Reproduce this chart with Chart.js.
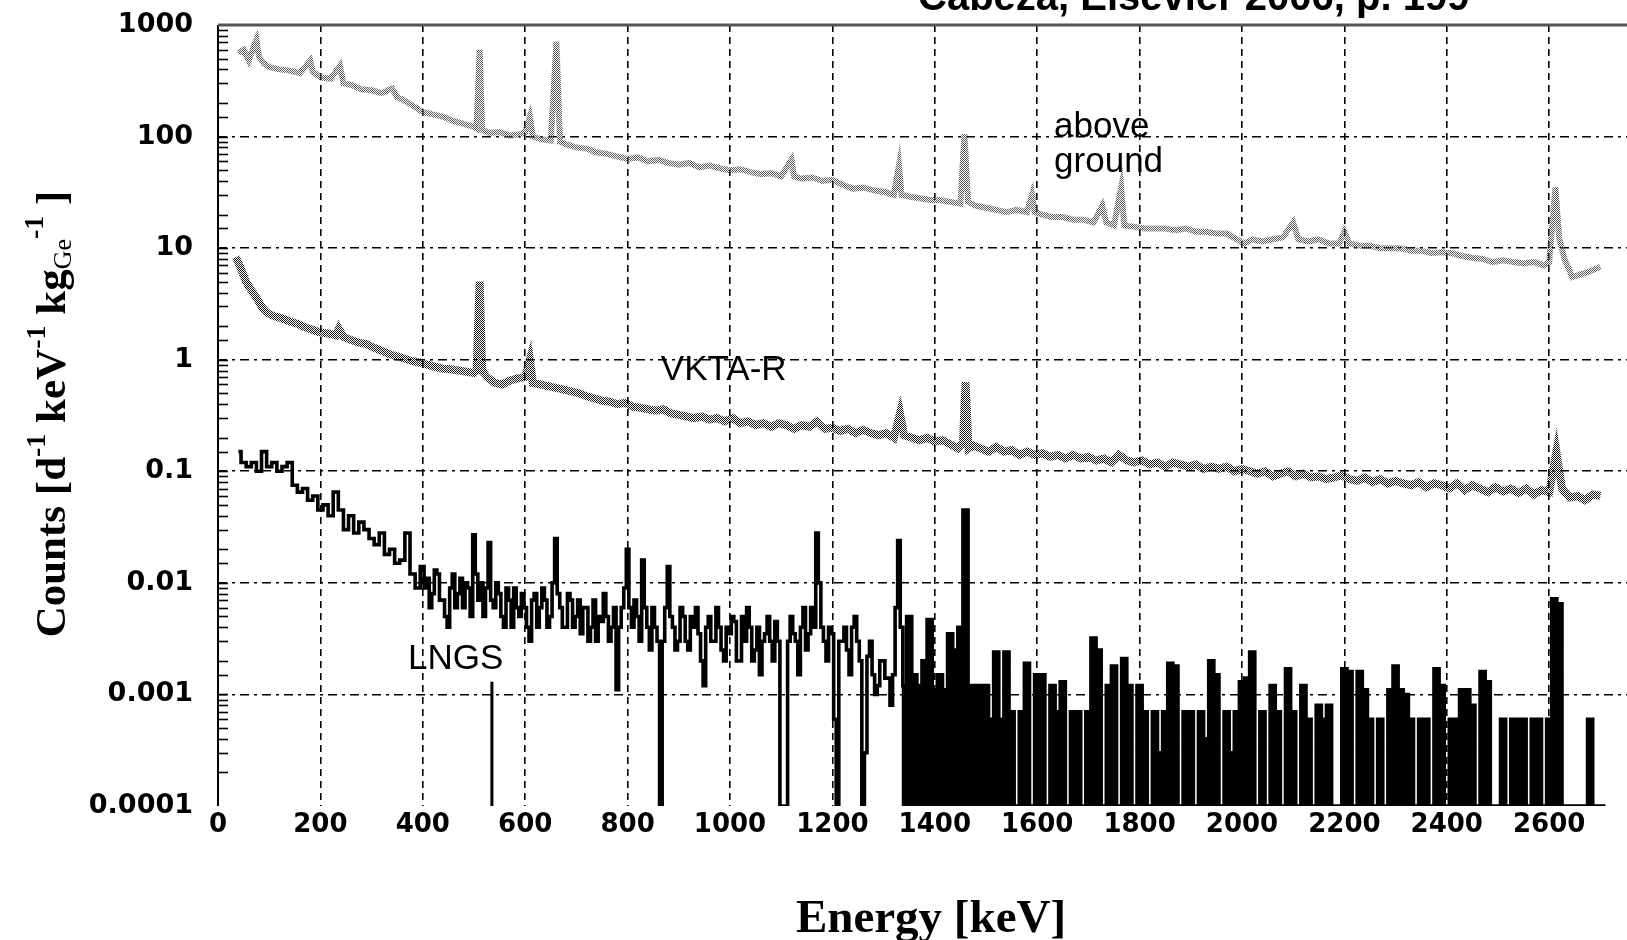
<!DOCTYPE html>
<html><head><meta charset="utf-8">
<script src="https://cdn.jsdelivr.net/npm/chart.js@4.4.1/dist/chart.umd.min.js"></script>
<style>html,body{margin:0;padding:0;background:#fff;}#wrap{position:relative;width:1627px;height:940px;}</style>
</head><body><div id="wrap"><canvas id="c"></canvas></div>
<script>
// ---------- DATA ----------
const xTicks = [0,200,400,600,800,1000,1200,1400,1600,1800,2000,2200,2400,2600];
const yTickLabels = ['0.0001','0.001','0.01','0.1','1','10','100','1000'];

const aboveEnergy = [
 40,50,60,70,75,80,90,100,120,140,
 160,180,185,200,220,238,245,260,280,300,
 320,340,350,360,380,400,420,440,460,480,
 500,505,511,516,530,550,570,590,600,609,
 615,630,650,661,668,680,700,720,740,760,
 780,800,820,840,860,880,900,920,940,960,
 980,1000,1020,1040,1060,1080,1100,1120,1125,1140,
 1160,1180,1200,1220,1240,1260,1280,1300,1320,1330,
 1335,1350,1370,1390,1410,1430,1450,1458,1465,1480,
 1500,1520,1540,1560,1580,1590,1595,1610,1630,1650,
 1670,1690,1710,1727,1735,1750,1764,1770,1790,1810,
 1830,1850,1870,1890,1910,1930,1950,1970,1990,2005,
 2020,2040,2060,2080,2100,2110,2130,2150,2170,2190,
 2200,2210,2230,2250,2270,2290,2310,2330,2350,2370,
 2390,2410,2430,2450,2470,2490,2510,2530,2550,2570,
 2590,2600,2612,2620,2630,2645,2660,2680,2700];
const aboveCounts = [
 560,600,480,650,735,520,450,420,400,390,
 370,480,380,340,330,430,300,290,265,260,
 245,270,225,215,190,166,158,150,138,130,
 122,118,600,115,108,110,102,105,110,150,
 100,95,92,710,90,85,80,78,72,70,
 66,63,65,60,62,58,56,58,53,55,
 52,50,51,48,46,47,44,62,44,42,
 43,40,41,37,34,35,33,32,30,55,
 30,29,28,27,27,26,25,105,26,24,
 23,22,21,22,21,30,21,20,19,19,
 18,18,17,24,17,16,35,16,15.5,15,
 15,15,14.5,15,14,14,13.5,13.5,12,11,
 12,11.5,12,12.5,17,12,11.5,12,11,11,
 14,11,10.5,10.5,10,10,10,9.5,9.5,9,
 9.2,9,8.5,8.2,8,7.5,7.8,7.5,7.3,7.5,
 7,7.5,35,12,8,5.5,5.8,6.2,6.8];

const vktaEnergy = [
 35,45,55,65,75,85,95,110,125,140,155,170,185,200,
 215,230,236,245,260,275,290,305,320,335,350,365,380,395,
 410,425,440,455,470,485,500,505,511,516,
 525,540,555,570,585,600,609,615,
 630,645,660,675,690,705,720,735,750,765,780,795,810,825,840,855,870,885,900,915,930,945,960,975,990,
 1005,1020,1035,1050,1065,1080,1095,1110,1125,1140,1155,1170,1185,1200,1215,1230,1245,1260,1275,1290,1305,1320,
 1332,1340,1355,1370,1385,1400,1415,1430,1445,1455,1460,1466,1475,
 1490,1505,1520,1535,1550,1565,1580,1595,1610,1625,
 1640,1655,1670,1685,1700,1715,1730,1745,1760,1775,
 1790,1805,1820,1835,1850,1865,1880,1895,1910,1925,
 1940,1955,1970,1985,2000,2015,2030,2045,2060,2075,
 2090,2105,2120,2135,2150,2165,2180,2195,2210,2225,
 2240,2255,2270,2285,2300,2315,2330,2345,2360,2375,
 2390,2405,2420,2435,2450,2465,2480,2495,2510,2525,
 2540,2555,2570,2585,2600,2614,2625,2640,2655,2670,2685,2700];
const vktaCounts = [
 8.3,6.5,5,4.2,3.6,3.0,2.65,2.45,2.35,2.2,2.1,1.95,1.85,1.75,
 1.72,1.65,1.9,1.6,1.5,1.42,1.38,1.28,1.2,1.12,1.07,1.02,0.97,0.94,
 0.9,0.86,0.83,0.82,0.8,0.78,0.76,0.8,5.0,0.8,
 0.7,0.62,0.6,0.65,0.68,0.7,1.0,0.62,
 0.6,0.58,0.56,0.54,0.52,0.5,0.47,0.45,0.43,0.42,0.4,0.41,0.38,0.37,0.36,0.35,0.36,0.33,0.32,0.31,0.30,0.31,0.29,0.3,0.28,
 0.3,0.27,0.28,0.26,0.27,0.25,0.27,0.26,0.24,0.26,0.25,0.28,0.24,0.245,0.23,0.24,0.22,0.235,0.22,0.21,0.22,0.2,
 0.33,0.21,0.2,0.19,0.2,0.185,0.19,0.175,0.16,0.18,0.63,0.16,0.17,
 0.16,0.15,0.165,0.15,0.155,0.14,0.15,0.14,0.145,0.135,
 0.14,0.13,0.14,0.13,0.135,0.125,0.13,0.12,0.14,0.125,
 0.12,0.125,0.115,0.12,0.11,0.12,0.115,0.11,0.115,0.105,
 0.11,0.105,0.11,0.1,0.105,0.1,0.095,0.1,0.09,0.095,
 0.1,0.09,0.095,0.088,0.09,0.085,0.088,0.092,0.085,0.082,
 0.088,0.08,0.085,0.078,0.082,0.078,0.075,0.08,0.072,0.078,
 0.075,0.07,0.078,0.068,0.075,0.07,0.065,0.072,0.066,0.07,
 0.064,0.07,0.062,0.068,0.065,0.15,0.07,0.058,0.06,0.055,0.062,0.06];

const lngsEnergy = [
 40,50,60,70,80,90,100,110,120,130,
 140,150,160,170,180,190,200,210,220,230,
 240,250,260,270,280,290,300,310,320,330,
 340,350,360,370,380,390,
 400,405,410,415,420,425,430,435,440,445,
 450,455,460,465,470,475,480,485,490,495,
 500,505,510,515,520,525,530,535,540,545,
 550,555,560,565,570,575,580,585,590,595,
 600,605,610,615,620,625,630,635,640,645,
 650,655,660,665,670,675,680,685,690,695,
 700,705,710,715,720,725,730,735,740,745,
 750,755,760,765,770,775,780,785,790,795,
 800,805,810,815,820,825,830,835,840,845,
 850,855,860,865,870,875,880,885,890,895,
 900,905,910,915,920,925,930,935,940,945,
 950,955,960,965,970,975,980,985,990,995,
 1000,1005,1010,1015,1020,1025,1030,1035,1040,1045,
 1050,1055,1060,1065,1070,1075,1080,1085,1090,1095,
 1100,1105,1110,1115,1120,1125,1130,1135,1140,1145,
 1150,1155,1160,1165,1170,1175,1180,1185,1190,1195,
 1200,1205,1210,1215,1220,1225,1230,1235,1240,1245,
 1250,1255,1260,1265,1270,1275,1280,1285,1290,1295,
 1300,1305,1310,1315,1320,1325,1330,1335,
 1340,1350,1360,1370,1380,1390,1400,1410,1420,1430,
 1440,1450,1460,1470,1480,1490,1500,1510,1520,1530,
 1540,1550,1560,1570,1580,1590,1600,1610,1620,1630,
 1640,1650,1660,1670,1680,1690,1700,1710,1720,1730,
 1740,1750,1760,1770,1780,1790,1800,1810,1820,1830,
 1840,1850,1860,1870,1880,1890,1900,1910,1920,1930,
 1940,1950,1960,1970,1980,1990,2000,2010,2020,2030,
 2040,2050,2060,2070,2080,2090,2100,2110,2120,2130,
 2140,2150,2160,2170,2180,2190,2200,2210,2220,2230,
 2240,2250,2260,2270,2280,2290,2300,2310,2320,2330,
 2340,2350,2360,2370,2380,2390,2400,2410,2420,2430,
 2440,2450,2460,2470,2480,2490,2500,2510,2520,2530,
 2540,2550,2560,2570,2580,2590,2600,2610,2620,2630,
 2640,2650,2660,2670,2680,2690,2700,2710];
const lngsCounts = [
 0.15,0.12,0.11,0.12,0.10,0.15,0.11,0.12,0.10,0.11,
 0.12,0.075,0.065,0.07,0.055,0.06,0.045,0.05,0.04,0.065,
 0.045,0.03,0.04,0.028,0.035,0.03,0.025,0.022,0.028,0.018,
 0.02,0.015,0.016,0.028,0.012,0.009,
 0.014,0.009,0.011,0.006,0.008,0.013,0.012,0.007,0.007,0.005,
 0.004,0.009,0.012,0.006,0.008,0.011,0.006,0.010,0.009,0.005,
 0.027,0.012,0.007,0.010,0.005,0.009,0.023,0.007,0.006,0.010,
 0.008,0.005,0.004,0.009,0.007,0.004,0.009,0.006,0.005,0.008,
 0.006,0.004,0.003,0.007,0.008,0.004,0.006,0.009,0.007,0.004,
 0.005,0.010,0.025,0.008,0.006,0.004,0.004,0.008,0.007,0.004,
 0.005,0.007,0.0035,0.006,0.006,0.003,0.004,0.007,0.003,0.005,
 0.0045,0.008,0.005,0.003,0.004,0.006,0.0011,0.004,0.006,0.009,
 0.020,0.006,0.004,0.007,0.005,0.003,0.016,0.006,0.004,0.0025,
 0.006,0.004,0.003,0.0001,0.003,0.006,0.014,0.005,0.004,0.0025,
 0.003,0.006,0.005,0.003,0.0025,0.005,0.004,0.006,0.0035,0.002,
 0.0012,0.004,0.005,0.003,0.003,0.006,0.004,0.0025,0.002,0.004,
 0.0035,0.005,0.0045,0.002,0.002,0.005,0.003,0.006,0.004,0.002,
 0.0025,0.004,0.0015,0.003,0.0035,0.005,0.003,0.002,0.0045,0.003,
 0.0001,0.0001,0.0001,0.003,0.005,0.0035,0.003,0.0015,0.004,0.006,
 0.0025,0.0035,0.006,0.004,0.028,0.010,0.004,0.003,0.002,0.004,
 0.0035,0.0006,0.0001,0.003,0.003,0.004,0.0025,0.0015,0.004,0.005,
 0.003,0.002,0.0001,0.0003,0.0022,0.003,0.0015,0.001,0.0012,0.002,
 0.002,0.0014,0.0014,0.0008,0.0015,0.006,0.024,0.004,
 0.0012,0.005,0.0015,0.0012,0.002,0.0047,0.0011,0.0015,0.0011,0.0035,
 0.0025,0.004,0.045,0.0012,0.0012,0.0012,0.0012,0.0006,0.0024,0.0006,
 0.0024,0.0007,0.0001,0.0007,0.0019,0.0001,0.0015,0.0015,0.0001,0.0012,
 0.0007,0.0013,0.0001,0.0007,0.0007,0.0001,0.0007,0.0032,0.0025,0.0001,
 0.0012,0.0018,0.0001,0.0021,0.0012,0.0001,0.0012,0.0007,0.0001,0.0007,
 0.0003,0.0007,0.0019,0.0018,0.0001,0.0007,0.0007,0.0001,0.0007,0.0004,
 0.002,0.0015,0.0001,0.0007,0.0003,0.0007,0.0013,0.0014,0.0024,0.0001,
 0.0007,0.0001,0.0012,0.0007,0.0001,0.0017,0.0007,0.0001,0.0012,0.0006,
 0.0001,0.0008,0.0006,0.0008,0.0001,0.0001,0.0017,0.0016,0.0001,0.0016,
 0.0011,0.0006,0.0001,0.0006,0.0001,0.0011,0.0018,0.0011,0.001,0.0006,
 0.0001,0.0006,0.0006,0.0001,0.0017,0.0012,0.0001,0.0006,0.0006,0.0011,
 0.0011,0.0008,0.0001,0.0016,0.0013,0.0001,0.0001,0.0006,0.0001,0.0006,
 0.0006,0.0006,0.0001,0.0006,0.0006,0.0001,0.0006,0.0072,0.0065,0.0001,
 0.0001,0.0001,0.0001,0.0001,0.0006,0.0001,0.0001,0.0001];

// pointer line under the "LNGS" label
const pointerEnergy = [535, 535];
const pointerCounts = [0.0013, 0.0001];

// ---------- HELPERS ----------
function zip(xs, ys){ const n=Math.min(xs.length, ys.length); const out=[]; for(let i=0;i<n;i++) out.push({x:xs[i], y:ys[i]}); return out; }
function isDecade(v){ const l=Math.log10(v); return Math.abs(l-Math.round(l))<1e-6; }
function makePattern(cells, color){
  const pc=document.createElement('canvas'); pc.width=2; pc.height=2;
  const p=pc.getContext('2d'); p.fillStyle=color;
  cells.forEach(c=>p.fillRect(c[0],c[1],1,1));
  return document.getElementById('c').getContext('2d').createPattern(pc,'repeat');
}
const abovePattern = makePattern([[0,0],[1,1]], '#5a5a5a');
const vktaPattern = makePattern([[0,0],[1,1]], '#1a1a1a');

const overlay = {
  id:'overlay',
  afterDraw(chart, args, opts){
    const {ctx, chartArea:ca, scales:{x,y}} = chart;
    ctx.save();
    ctx.strokeStyle='#000'; ctx.lineWidth=2; ctx.setLineDash([]);
    ctx.beginPath(); ctx.moveTo(ca.left, ca.top); ctx.lineTo(ca.left, ca.bottom); ctx.stroke();
    ctx.lineWidth=1.6;
    y.ticks.forEach(t=>{ if(t.value<=y.min||t.value>=y.max) return; const py=Math.round(y.getPixelForValue(t.value))+0.5; ctx.beginPath(); ctx.moveTo(ca.left, py); ctx.lineTo(ca.left+10, py); ctx.stroke(); });
    ctx.strokeStyle='#555'; ctx.lineWidth=3;
    const ty=y.getPixelForValue(y.max);
    ctx.beginPath(); ctx.moveTo(ca.left, ty); ctx.lineTo(ca.right, ty); ctx.stroke();
    ctx.fillStyle='#000'; ctx.textBaseline='alphabetic'; ctx.textAlign='left';
    ctx.font='35px "Liberation Sans", Arial, sans-serif';
    opts.labels.forEach(l=>{ ctx.fillText(l.text, x.getPixelForValue(l.x), y.getPixelForValue(l.y)); });
    ctx.font='bold 40px "Liberation Sans", Arial, sans-serif';
    ctx.fillText(opts.title, 918, 10);
    ctx.textAlign='center';
    ctx.font='bold 47px "Liberation Serif", "Times New Roman", serif';
    ctx.fillText('Energy [keV]', 931, 932);
    const main='bold 43px "Liberation Serif", "Times New Roman", serif';
    const sup='bold 28px "Liberation Serif", "Times New Roman", serif';
    const sub='26px "Liberation Serif", "Times New Roman", serif';
    const pieces=[
      {t:'Counts [d', f:main, dy:0},
      {t:'-1', f:sup, dy:-20},
      {t:' keV', f:main, dy:0},
      {t:'-1', f:sup, dy:-20},
      {t:' kg', f:main, dy:0},
      {t:'Ge', f:sub, dy:6},
      {t:'-1', f:sup, dy:-22},
      {t:' ]', f:main, dy:0}
    ];
    let total=0; pieces.forEach(p=>{ ctx.font=p.f; p.w=ctx.measureText(p.t).width; total+=p.w; });
    ctx.translate(65, 414); ctx.rotate(-Math.PI/2);
    ctx.textAlign='left';
    let cx=-total/2;
    pieces.forEach(p=>{ ctx.font=p.f; ctx.fillText(p.t, cx, p.dy); cx+=p.w; });
    ctx.restore();
  }
};

new Chart(document.getElementById('c'), {
  type:'line',
  data:{ datasets:[
    { label:'above ground', data: zip(aboveEnergy, aboveCounts), borderColor: abovePattern, borderWidth:6, pointRadius:0, tension:0, fill:false },
    { label:'VKTA-R', data: zip(vktaEnergy, vktaCounts), borderColor: vktaPattern, borderWidth:8, pointRadius:0, tension:0, fill:false },
    { label:'LNGS', data: zip(lngsEnergy, lngsCounts), borderColor:'#000', borderWidth:3.6, pointRadius:0, stepped:'middle',
      fill:'start', backgroundColor:'rgba(0,0,0,0)',
      segment:{ backgroundColor: c => (c.p0.parsed.x >= 1335 ? '#000' : 'rgba(0,0,0,0)') } },
    { label:'pointer', data: zip(pointerEnergy, pointerCounts), borderColor:'#000', borderWidth:3, pointRadius:0, fill:false }
  ]},
  options:{
    responsive:true, maintainAspectRatio:false, animation:false, events:[],
    layout:{ padding:{ top:25, right:0, left:0, bottom:0 } },
    plugins:{ legend:{display:false}, tooltip:{enabled:false},
      overlay:{ title:'Cabeza, Elsevier 2006, p. 199',
        labels:[ {text:'above', x:1633, y:99}, {text:'ground', x:1633, y:48}, {text:'VKTA-R', x:865, y:0.66}, {text:'LNGS', x:371, y:0.0017} ] } },
    scales:{
      x:{ type:'linear', min:0, max:2752,
        afterFit(s){ s.height = 134; s.paddingLeft = 0; s.paddingRight = 0; },
        afterBuildTicks(s){ s.ticks = xTicks.map(v=>({value:v})); },
        ticks:{ includeBounds:false, autoSkip:false, maxRotation:0, padding:4, color:'#000',
          font:{ family:'"DejaVu Sans", sans-serif', size:26, weight:'bold' },
          callback:(v)=> String(v) },
        grid:{ drawTicks:false, lineWidth:1.6, color:(c)=> (c.tick && c.tick.value>0) ? '#000' : 'rgba(0,0,0,0)' },
        border:{ display:false, dash:[7,5] }
      },
      y:{ type:'logarithmic', min:0.0001, max:1000,
        afterFit(s){ s.width = 218; s.paddingTop = 0; s.paddingBottom = 0; },
        ticks:{ autoSkip:false, padding:25, color:'#000',
          font:{ family:'"DejaVu Sans", sans-serif', size:27, weight:'bold' },
          callback:(v)=> { if(!isDecade(v)) return ''; const e=Math.round(Math.log10(v)); return yTickLabels[e+4]; } },
        grid:{ drawTicks:false, lineWidth:1.6, color:(c)=> { const v=c.tick&&c.tick.value; return (v && isDecade(v) && v>0.00011 && v<999) ? '#000' : 'rgba(0,0,0,0)'; } },
        border:{ display:false, dash:[9,5,3,5] }
      }
    }
  },
  plugins:[overlay]
});
</script>
</body></html>
